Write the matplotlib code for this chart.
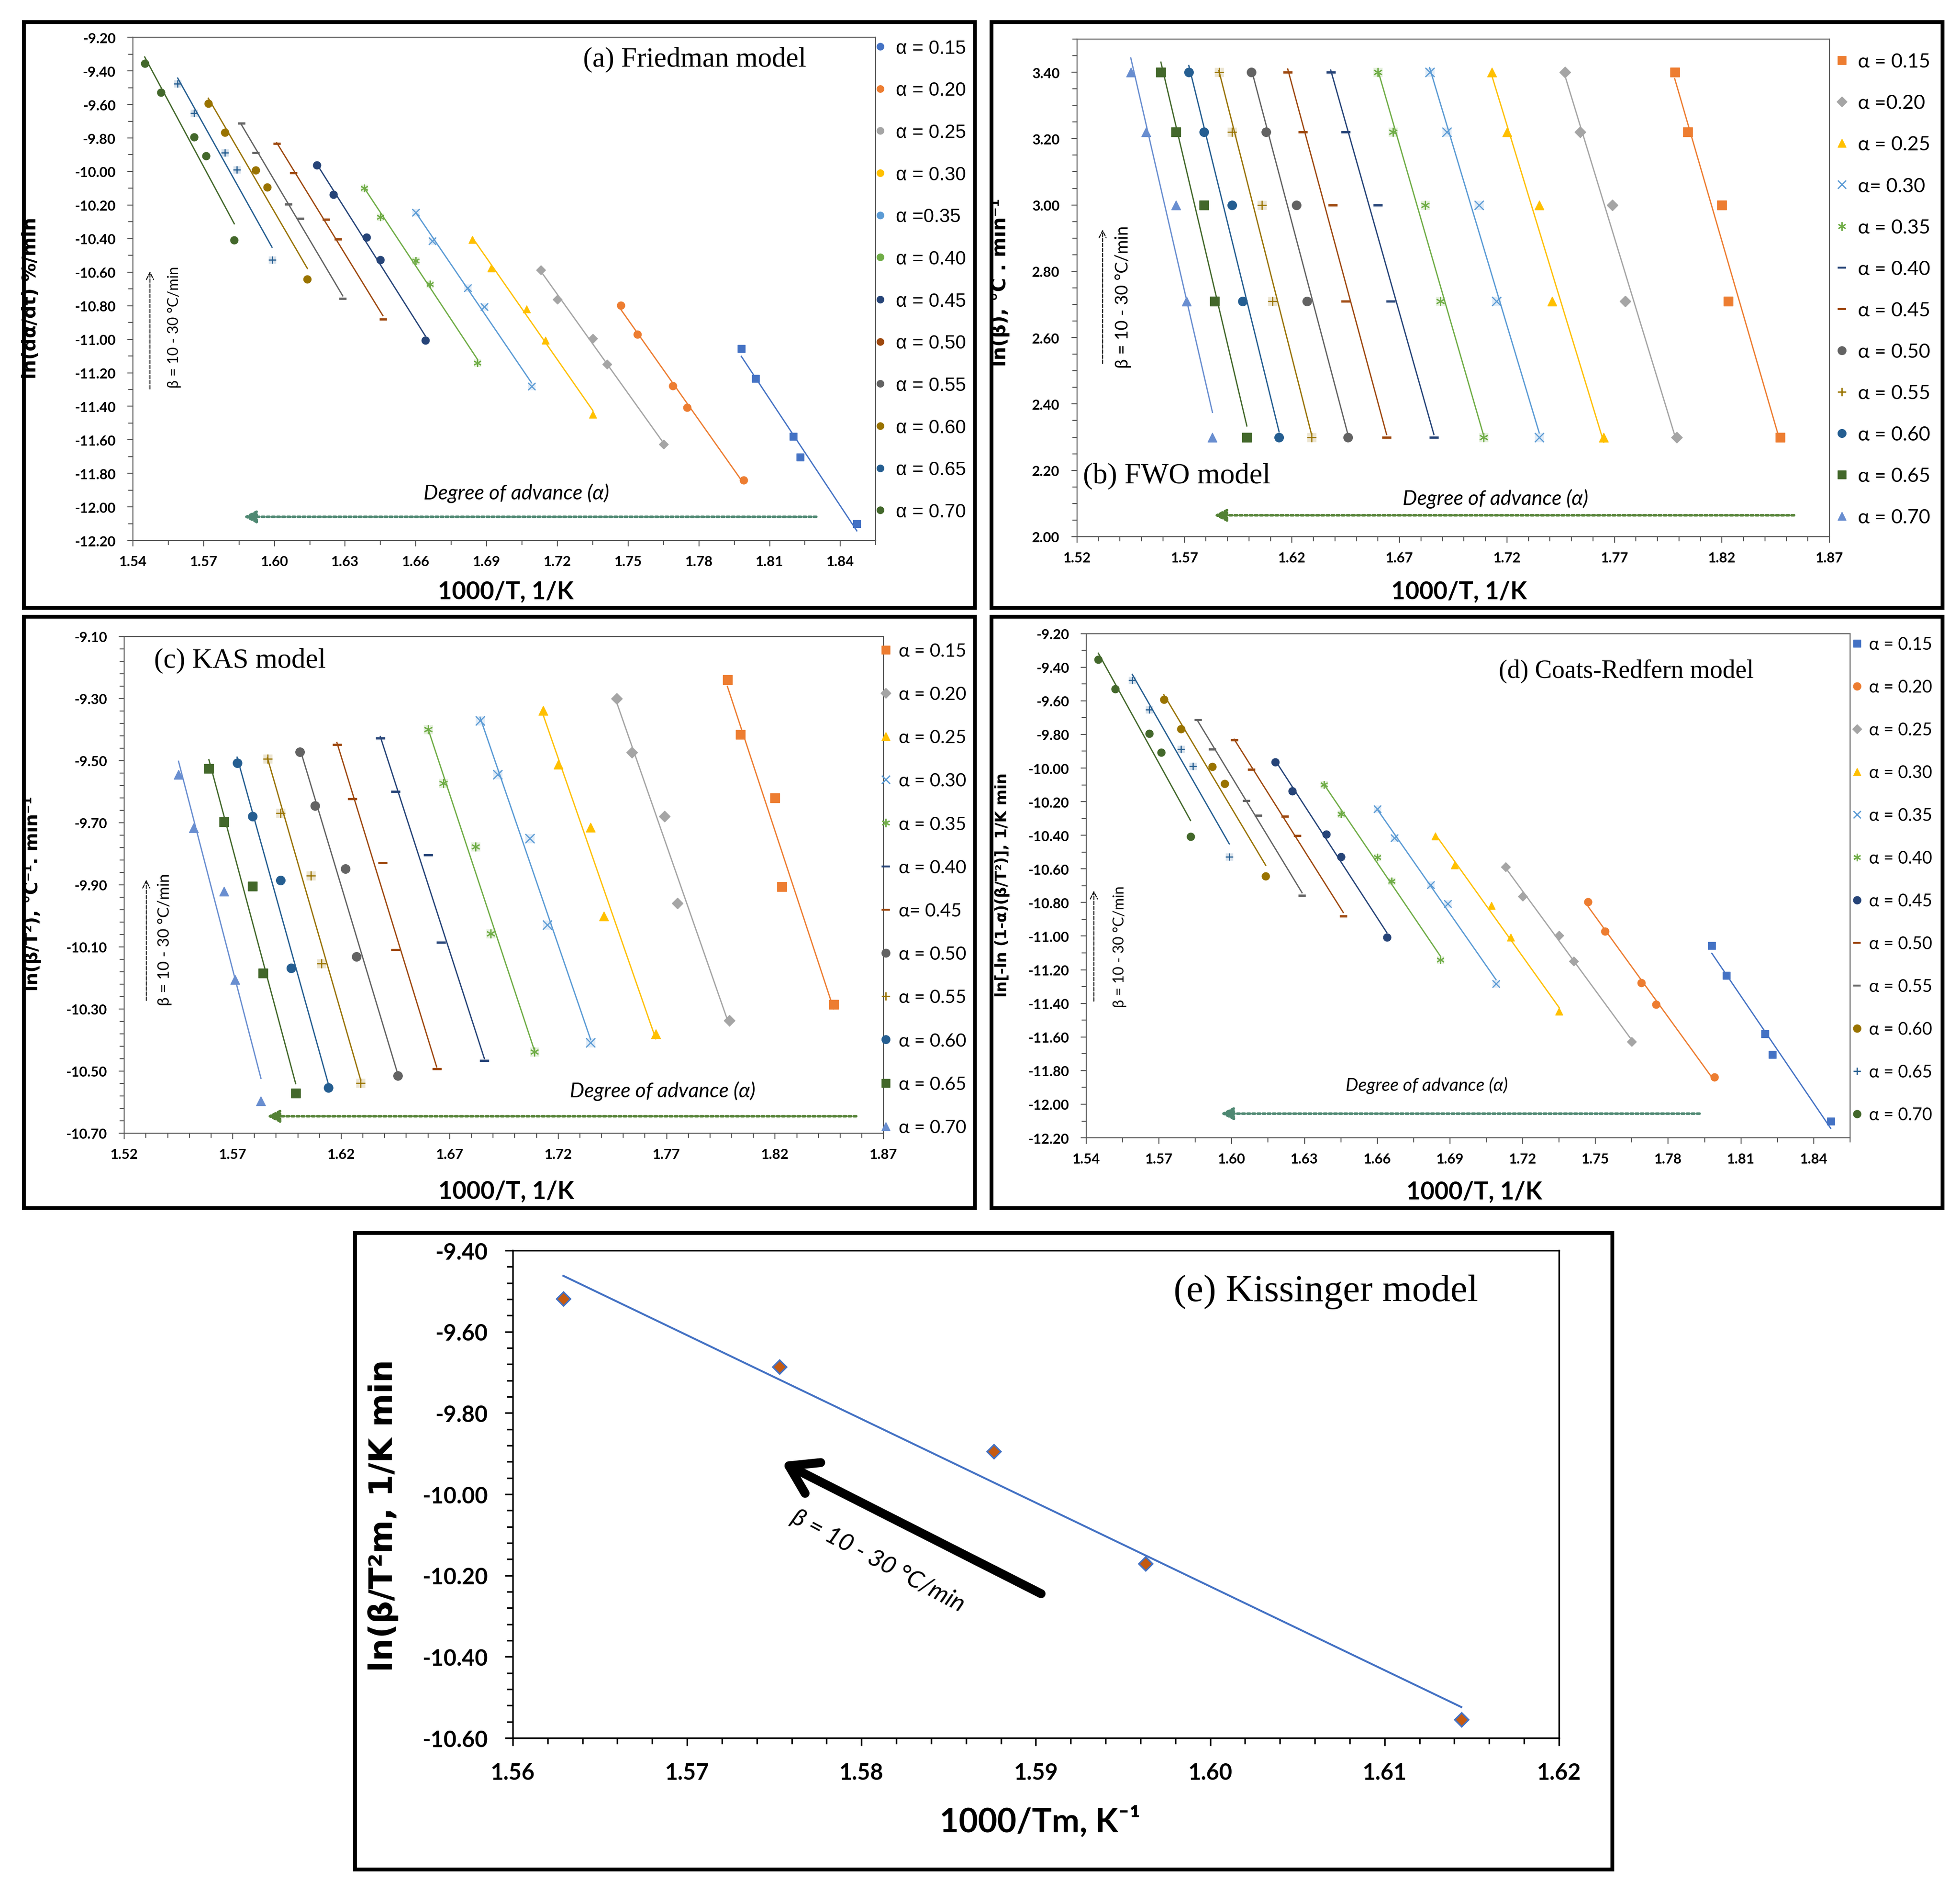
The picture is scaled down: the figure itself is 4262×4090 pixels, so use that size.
# Kinetic plots: Friedman, FWO, KAS, Coats-Redfern and Kissinger

import numpy as np
import matplotlib
matplotlib.use("Agg")
import matplotlib.pyplot as plt
from matplotlib.lines import Line2D
from matplotlib.patches import Rectangle
from matplotlib.ticker import FormatStrFormatter

# 1. Data (x = 1000/T, points ordered beta = 30, 25, 20, 15, 10 C/min)
x_015 = [1.798, 1.804, 1.820, 1.823, 1.847]
x_020 = [1.747, 1.754, 1.769, 1.775, 1.799]
x_025 = [1.713, 1.720, 1.735, 1.741, 1.765]
x_030 = [1.684, 1.692, 1.707, 1.715, 1.735]
x_035 = [1.660, 1.667, 1.682, 1.689, 1.709]
x_040 = [1.638, 1.645, 1.660, 1.666, 1.686]
x_045 = [1.618, 1.625, 1.639, 1.645, 1.664]
x_050 = [1.601, 1.608, 1.622, 1.627, 1.646]
x_055 = [1.586, 1.592, 1.606, 1.611, 1.629]
x_060 = [1.572, 1.579, 1.592, 1.597, 1.614]
x_065 = [1.559, 1.566, 1.579, 1.584, 1.599]
x_070 = [1.545, 1.552, 1.566, 1.571, 1.583]
x_all = [x_015, x_020, x_025, x_030, x_035, x_040,
         x_045, x_050, x_055, x_060, x_065, x_070]

# Friedman ln(da/dt) -- the Coats-Redfern panel shows the same values
fr_015 = [-11.057, -11.234, -11.581, -11.704, -12.101]
fr_020 = [-10.797, -10.972, -11.278, -11.407, -11.839]
fr_025 = [-10.587, -10.762, -10.996, -11.149, -11.627]
fr_030 = [-10.406, -10.576, -10.819, -11.007, -11.448]
fr_035 = [-10.244, -10.415, -10.694, -10.806, -11.282]
fr_040 = [-10.098, -10.273, -10.531, -10.673, -11.140]
fr_045 = [-9.963, -10.137, -10.393, -10.528, -11.007]
fr_050 = [-9.834, -10.008, -10.286, -10.402, -10.880]
fr_055 = [-9.713, -9.888, -10.194, -10.281, -10.758]
fr_060 = [-9.593, -9.766, -9.993, -10.094, -10.642]
fr_065 = [-9.477, -9.652, -9.888, -9.989, -10.528]
fr_070 = [-9.355, -9.528, -9.794, -9.908, -10.408]
fr_all = [fr_015, fr_020, fr_025, fr_030, fr_035, fr_040,
          fr_045, fr_050, fr_055, fr_060, fr_065, fr_070]
cr_all = fr_all

# FWO ln(beta)
ln_beta = [3.40, 3.22, 3.00, 2.71, 2.30]
fwo_all = [ln_beta] * 12

# KAS ln(beta/T^2)
kas_015 = [-9.239, -9.416, -9.620, -9.906, -10.286]
kas_020 = [-9.300, -9.473, -9.679, -9.959, -10.338]
kas_025 = [-9.339, -9.512, -9.715, -10.001, -10.380]
kas_030 = [-9.372, -9.544, -9.750, -10.029, -10.409]
kas_035 = [-9.400, -9.573, -9.778, -10.057, -10.438]
kas_040 = [-9.427, -9.600, -9.804, -10.085, -10.466]
kas_045 = [-9.449, -9.623, -9.829, -10.109, -10.493]
kas_050 = [-9.472, -9.645, -9.849, -10.131, -10.515]
kas_055 = [-9.494, -9.669, -9.871, -10.154, -10.539]
kas_060 = [-9.508, -9.680, -9.886, -10.169, -10.554]
kas_065 = [-9.525, -9.698, -9.904, -10.185, -10.572]
kas_070 = [-9.544, -9.717, -9.921, -10.205, -10.596]
kas_all = [kas_015, kas_020, kas_025, kas_030, kas_035, kas_040,
           kas_045, kas_050, kas_055, kas_060, kas_065, kas_070]

# Kissinger
kis_x = [1.5629, 1.5753, 1.5876, 1.5963, 1.6144]
kis_y = [-9.519, -9.686, -9.895, -10.171, -10.555]

# legend labels (as typed in each panel)
labels_a = ["α = 0.15", "α = 0.20", "α = 0.25", "α = 0.30", "α =0.35", "α = 0.40",
            "α = 0.45", "α = 0.50", "α = 0.55", "α = 0.60", "α = 0.65", "α = 0.70"]
labels_b = ["α = 0.15", "α =0.20", "α = 0.25", "α= 0.30", "α = 0.35", "α = 0.40",
            "α = 0.45", "α = 0.50", "α = 0.55", "α = 0.60", "α = 0.65", "α = 0.70"]
labels_c = ["α = 0.15", "α = 0.20", "α = 0.25", "α = 0.30", "α = 0.35", "α = 0.40",
            "α= 0.45", "α = 0.50", "α = 0.55", "α = 0.60", "α = 0.65", "α = 0.70"]
labels_d = ["α = 0.15", "α = 0.20", "α = 0.25", "α = 0.30", "α = 0.35", "α = 0.40",
            "α = 0.45", "α = 0.50", "α = 0.55", "α = 0.60", "α = 0.65", "α = 0.70"]

# 2. Styles
colors_ad = ['#4472C4', '#ED7D31', '#A5A5A5', '#FFC000', '#5B9BD5', '#70AD47',
             '#264478', '#9E480E', '#636363', '#997300', '#255E91', '#43682B']
markers_ad = ['s', 'o', 'D', '^', 'x', '*', 'o', '_', '_', 'o', '+', 'o']
colors_bc = ['#ED7D31', '#A5A5A5', '#FFC000', '#5B9BD5', '#70AD47', '#264478',
             '#9E480E', '#636363', '#997300', '#255E91', '#43682B', '#698ED0']
markers_bc = ['s', 'D', '^', 'x', '*', '_', '_', 'o', '+', 'o', 's', '^']
STAR = (6, 2, 0)

NARROW = ["Lato", "DejaVu Sans"]
SERIF = ["Liberation Serif", "DejaVu Serif"]
WIDE = ["Liberation Sans", "DejaVu Sans"]
BOLDSANS = ["DejaVu Sans"]

plt.rcParams['font.family'] = NARROW
plt.rcParams['font.weight'] = 'bold'


def draw_points(ax, xs, ys, m, c, ms):
    if m in ('x', '*', '+'):
        ax.plot(xs, ys, ls='none', marker='s', ms=ms, mfc=c, mec='none', alpha=0.18, zorder=3)
        ax.plot(xs, ys, ls='none', marker=STAR if m == '*' else m, ms=ms, mec=c, mew=1.8, zorder=4)
    elif m == '_':
        ax.plot(xs, ys, ls='none', marker='_', ms=ms, mec=c, mew=3.5, zorder=4)
    else:
        size = ms * 0.85 if m == 'D' else ms
        ax.plot(xs, ys, ls='none', marker=m, ms=size, mfc=c, mec=c, zorder=4)


def plot_series(ax, ys_all, colors, markers, ms):
    for xs, ys, c, m in zip(x_all, ys_all, colors, markers):
        xs = np.array(xs)
        ys = np.array(ys)
        k, b = np.polyfit(xs, ys, 1)
        xx = np.array([xs.min(), xs.max()])
        ax.plot(xx, k * xx + b, color=c, lw=2, zorder=2)
        draw_points(ax, xs, ys, m, c, ms)


def style_axes(ax, xt, xm, yt, ym, lsize, spine_c='#595959', lw=1.6, tlen=9, xpad=14, ypad=18):
    ax.set_xlim(xt[0], xt[-1])
    ax.set_ylim(yt[0], yt[-1])
    ax.set_xticks(np.arange(*xt[1]))
    ax.set_xticks(np.arange(*xm), minor=True)
    ax.set_yticks(np.arange(*yt[1]))
    ax.set_yticks(np.arange(*ym), minor=True)
    ax.xaxis.set_major_formatter(FormatStrFormatter('%.2f'))
    ax.yaxis.set_major_formatter(FormatStrFormatter('%.2f'))
    ax.tick_params(which='both', direction='out', color=spine_c, width=lw, labelsize=lsize)
    ax.tick_params(which='major', length=tlen)
    ax.tick_params(which='minor', length=tlen * 0.8)
    ax.tick_params(axis='x', pad=xpad)
    ax.tick_params(axis='y', pad=ypad)
    for s in ax.spines.values():
        s.set_color(spine_c)
        s.set_linewidth(lw)


def add_legend(ax, colors, markers, labels, anchor, fsize, spacing, font, ms, tpad=0.4):
    handles = []
    for c, m in zip(colors, markers):
        if m in ('x', '*', '+', '_'):
            handles.append(Line2D([], [], ls='none', marker=STAR if m == '*' else m,
                                  ms=ms, mec=c, mew=3 if m == '_' else 2))
        else:
            handles.append(Line2D([], [], ls='none', marker=m,
                                  ms=ms * 0.85 if m == 'D' else ms, mfc=c, mec=c))
    prop = {"family": font, "weight": "normal", "size": fsize}
    ax.legend(handles, labels, loc='upper left', bbox_to_anchor=anchor, frameon=False,
              borderaxespad=0, borderpad=0, handlelength=0.8, handletextpad=tpad,
              labelspacing=spacing, prop=prop)


def annotate_panel(ax, beta_xy, arr_x, arr_y, bsize, deg_xy, deg_arrow, dsize, dcolor):
    ax.annotate('', xy=(arr_x, arr_y[1]), xytext=(arr_x, arr_y[0]), xycoords='axes fraction',
                arrowprops=dict(arrowstyle='->', lw=1.5, ls='--', color='black',
                                mutation_scale=28, shrinkA=0, shrinkB=0))
    ax.text(beta_xy[0], beta_xy[1], 'β = 10 - 30 °C/min', rotation=90, ha='center', va='center',
            transform=ax.transAxes, fontsize=bsize, weight='normal', family=NARROW)
    ax.text(deg_xy[0], deg_xy[1], 'Degree of advance (α)', ha='center', va='center',
            transform=ax.transAxes, fontsize=dsize, style='italic', weight='normal', family=NARROW)
    ax.annotate('', xy=(deg_arrow[1], deg_arrow[2]), xytext=(deg_arrow[0], deg_arrow[2]),
                xycoords='axes fraction',
                arrowprops=dict(arrowstyle='-|>', lw=4, ls=(0, (1, 1)), color=dcolor,
                                mutation_scale=40, shrinkA=0, shrinkB=0))


# 3. Figure
fig = plt.figure(figsize=(42.62, 40.91), dpi=100)
fig.patch.set_facecolor('white')

for x0, y0, w, h in [(0.0122, 0.6766, 0.4852, 0.3114), (0.5059, 0.6766, 0.4852, 0.3114),
                     (0.0122, 0.3576, 0.4852, 0.3143), (0.5059, 0.3576, 0.4852, 0.3143),
                     (0.1811, 0.0061, 0.6415, 0.3383)]:
    fig.add_artist(Rectangle((x0, y0), w, h, transform=fig.transFigure,
                             fill=False, lw=6, ec='black', zorder=0))

X_A = (1.54, (1.54, 1.85, 0.03), 1.855)
X_B = (1.52, (1.52, 1.871, 0.05), 1.87)

# (a) Friedman
ax_a = fig.add_axes([0.0678, 0.7125, 0.379, 0.2674])
plot_series(ax_a, fr_all, colors_ad, markers_ad, 12)
style_axes(ax_a, X_A, (1.54, 1.856, 0.015), (-12.2, (-12.2, -9.19, 0.2), -9.2),
           (-12.2, -9.19, 0.1), 22)
ax_a.set_xlabel('1000/T, 1/K', fontsize=38, weight='bold')
ax_a.xaxis.set_label_coords(0.502, -0.079)
ax_a.set_ylabel('ln(dα/dt) %/min', fontsize=29, family=BOLDSANS, weight='bold')
ax_a.yaxis.set_label_coords(-0.125, 0.483)
ax_a.text(0.756, 0.956, '(a) Friedman model', transform=ax_a.transAxes, ha='center', va='center',
          fontsize=44, family=SERIF, weight='normal')
annotate_panel(ax_a, (0.056, 0.425), 0.023, (0.301, 0.535), 23,
               (0.516, 0.095), (0.92, 0.149, 0.047), 32, '#4E8872')
add_legend(ax_a, colors_ad, ['o'] * 12, labels_a, (0.996, 0.997), 30, 1.24, WIDE, 11)

# (b) FWO
ax_b = fig.add_axes([0.5495, 0.7145, 0.3839, 0.2645])
plot_series(ax_b, fwo_all, colors_bc, markers_bc, 14)
style_axes(ax_b, X_B, (1.52, 1.871, 0.01), (2.0, (2.0, 3.41, 0.2), 3.5),
           (2.0, 3.501, 0.05), 22)
ax_b.set_xlabel('1000/T, 1/K', fontsize=38, weight='bold')
ax_b.xaxis.set_label_coords(0.508, -0.087)
ax_b.set_ylabel('ln(β), °C . min⁻¹', fontsize=30, family=BOLDSANS, weight='bold')
ax_b.yaxis.set_label_coords(-0.089, 0.512)
ax_b.text(0.008, 0.122, '(b) FWO model', transform=ax_b.transAxes, ha='left', va='center',
          fontsize=46, family=SERIF, weight='normal')
annotate_panel(ax_b, (0.061, 0.482), 0.034, (0.348, 0.617), 27,
               (0.556, 0.077), (0.953, 0.182, 0.043), 32, '#548235')
add_legend(ax_b, colors_bc, markers_bc, labels_b, (1.006, 0.972), 31, 1.21, NARROW, 13)

# (c) KAS
ax_c = fig.add_axes([0.0634, 0.3975, 0.3874, 0.2640])
plot_series(ax_c, kas_all, colors_bc, markers_bc, 14)
style_axes(ax_c, X_B, (1.52, 1.871, 0.01), (-10.7, (-10.7, -9.09, 0.2), -9.1),
           (-10.7, -9.09, 0.04), 22)
ax_c.set_xlabel('1000/T, 1/K', fontsize=38, weight='bold')
ax_c.xaxis.set_label_coords(0.503, -0.094)
ax_c.set_ylabel('ln(β/T²), °C⁻¹. min⁻¹', fontsize=28, family=BOLDSANS, weight='bold')
ax_c.yaxis.set_label_coords(-0.109, 0.483)
ax_c.text(0.039, 0.952, '(c) KAS model', transform=ax_c.transAxes, ha='left', va='center',
          fontsize=44, family=SERIF, weight='normal')
annotate_panel(ax_c, (0.053, 0.39), 0.029, (0.267, 0.51), 25,
               (0.709, 0.085), (0.964, 0.188, 0.034), 32, '#548235')
add_legend(ax_c, colors_bc, markers_bc, labels_c, (0.993, 0.988), 29, 1.42, NARROW, 13, 0.3)

# (d) Coats-Redfern
ax_d = fig.add_axes([0.5542, 0.3950, 0.3897, 0.2680])
plot_series(ax_d, cr_all, colors_ad, markers_ad, 12)
style_axes(ax_d, X_A, (1.54, 1.856, 0.015), (-12.2, (-12.2, -9.19, 0.2), -9.2),
           (-12.2, -9.19, 0.1), 22)
ax_d.set_xlabel('1000/T, 1/K', fontsize=38, weight='bold')
ax_d.xaxis.set_label_coords(0.508, -0.084)
ax_d.set_ylabel('ln[-ln (1-α)(β/T²)], 1/K min', fontsize=24, family=BOLDSANS, weight='bold')
ax_d.yaxis.set_label_coords(-0.10, 0.502)
ax_d.text(0.707, 0.926, '(d) Coats-Redfern model', transform=ax_d.transAxes, ha='center', va='center',
          fontsize=40, family=SERIF, weight='normal')
annotate_panel(ax_d, (0.044, 0.38), 0.010, (0.271, 0.49), 23,
               (0.446, 0.105), (0.803, 0.176, 0.048), 28, '#4E8872')
add_legend(ax_d, colors_ad, markers_ad, labels_d, (1.0, 0.995), 27, 1.52, NARROW, 12, 0.3)

# (e) Kissinger
ax_e = fig.add_axes([0.2616, 0.0760, 0.5338, 0.2591])
kx = np.array(kis_x)
ky = np.array(kis_y)
k, b = np.polyfit(kx, ky, 1)
xx = np.array([kx.min(), kx.max()])
ax_e.plot(xx, k * xx + b, color='#4472C4', lw=3, zorder=2)
ax_e.plot(kx, ky, ls='none', marker='D', ms=15, mfc='#C55A11', mec='#4472C4', mew=2.5, zorder=3)
style_axes(ax_e, (1.56, (1.56, 1.621, 0.01), 1.62), (1.56, 1.621, 0.002),
           (-10.6, (-10.6, -9.39, 0.2), -9.4), (-10.6, -9.39, 0.04), 35,
           spine_c='black', lw=2.5, tlen=12, xpad=26, ypad=27)
ax_e.set_xlabel('1000/Tm, K⁻¹', fontsize=52, weight='bold')
ax_e.xaxis.set_label_coords(0.504, -0.139)
ax_e.set_ylabel('ln(β/T²m, 1/K min', fontsize=50, family=BOLDSANS, weight='bold')
ax_e.yaxis.set_label_coords(-0.109, 0.457)
ax_e.text(0.777, 0.916, '(e) Kissinger model', transform=ax_e.transAxes, ha='center', va='center',
          fontsize=60, family=SERIF, weight='normal')
ax_e.annotate('', xy=(0.257, 0.566), xytext=(0.505, 0.296), xycoords='axes fraction',
              arrowprops=dict(arrowstyle='->,head_length=0.7,head_width=0.45', lw=14, color='black',
                              mutation_scale=60, shrinkA=0, shrinkB=0))
ax_e.text(0.349, 0.364, 'β = 10 - 30 °C/min', transform=ax_e.transAxes, ha='center', va='center',
          rotation=-28, fontsize=38, style='italic', weight='normal', family=NARROW)

fig.savefig('out.png', dpi=100, facecolor='white')
